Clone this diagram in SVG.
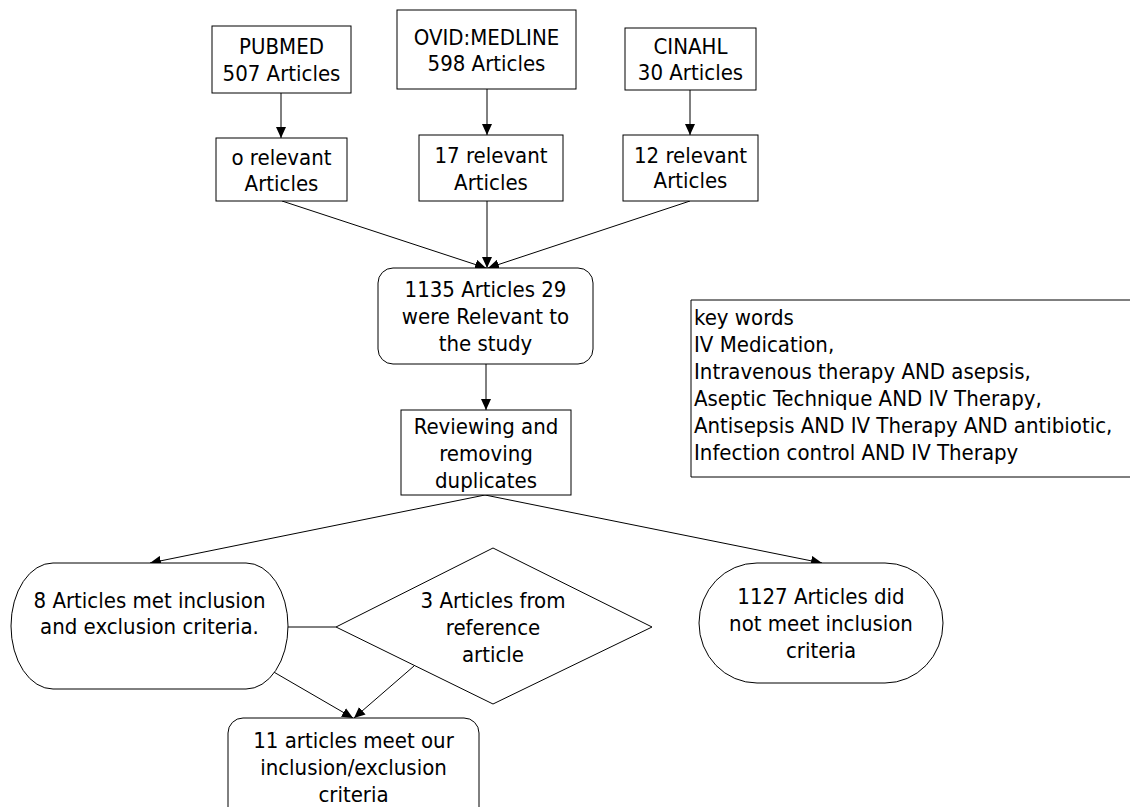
<svg xmlns="http://www.w3.org/2000/svg" width="1130" height="807" viewBox="0 0 1130 807">
<style>
.box{fill:#fff;stroke:#000;stroke-width:1}
.t{font-family:"DejaVu Sans Condensed","DejaVu Sans",sans-serif;font-stretch:condensed;font-size:22px;fill:#000;text-anchor:middle}
.tl{text-anchor:start}
.c{fill:none;stroke:#000;stroke-width:1}
</style>
<defs>
<marker id="ah" markerUnits="userSpaceOnUse" markerWidth="12" markerHeight="10" refX="11" refY="5" orient="auto">
<path d="M0,0 L11,5 L0,10 Z" fill="#000"/>
</marker>
</defs>
<rect width="1130" height="807" fill="#fff"/>
<g id="connectors">
<line class="c" x1="281" y1="93" x2="281" y2="138" marker-end="url(#ah)"/>
<line class="c" x1="487" y1="89" x2="487" y2="135" marker-end="url(#ah)"/>
<line class="c" x1="690" y1="90" x2="690" y2="135" marker-end="url(#ah)"/>
<line class="c" x1="282" y1="201" x2="486" y2="268" marker-end="url(#ah)"/>
<line class="c" x1="487" y1="201" x2="487" y2="268" marker-end="url(#ah)"/>
<line class="c" x1="690" y1="201" x2="488" y2="268" marker-end="url(#ah)"/>
<line class="c" x1="486" y1="364" x2="486" y2="410" marker-end="url(#ah)"/>
<line class="c" x1="485" y1="495" x2="150" y2="563" marker-end="url(#ah)"/>
<line class="c" x1="485" y1="495" x2="822" y2="563" marker-end="url(#ah)"/>
<line class="c" x1="288" y1="627" x2="336" y2="627"/>
<line class="c" x1="272" y1="671" x2="353" y2="718" marker-end="url(#ah)"/>
<line class="c" x1="414" y1="666" x2="354" y2="718" marker-end="url(#ah)"/>
</g>
<g id="pubmed">
<rect class="box" x="212" y="26" width="139" height="67"/>
<text class="t" x="281.5" y="54">PUBMED</text>
<text class="t" x="281.5" y="81">507 Articles</text>
</g>
<g id="ovid">
<rect class="box" x="397" y="10" width="179" height="79"/>
<text class="t" x="486.5" y="45">OVID:MEDLINE</text>
<text class="t" x="486.5" y="71">598 Articles</text>
</g>
<g id="cinahl">
<rect class="box" x="625" y="28" width="131" height="62"/>
<text class="t" x="690.5" y="54">CINAHL</text>
<text class="t" x="690.5" y="80">30 Articles</text>
</g>
<g id="pubmed-rel">
<rect class="box" x="216" y="138" width="131" height="63"/>
<text class="t" x="281.5" y="165">o relevant</text>
<text class="t" x="281.5" y="191">Articles</text>
</g>
<g id="ovid-rel">
<rect class="box" x="419" y="135" width="144" height="66"/>
<text class="t" x="491" y="163">17 relevant</text>
<text class="t" x="491" y="190">Articles</text>
</g>
<g id="cinahl-rel">
<rect class="box" x="623" y="135" width="135" height="66"/>
<text class="t" x="690.5" y="163">12 relevant</text>
<text class="t" x="690.5" y="188">Articles</text>
</g>
<g id="total">
<rect class="box" x="378" y="268" width="215" height="96" rx="15" ry="15"/>
<text class="t" x="485.5" y="297">1135 Articles 29</text>
<text class="t" x="485.5" y="324">were Relevant to</text>
<text class="t" x="485.5" y="351">the study</text>
</g>
<g id="review">
<rect class="box" x="401" y="410" width="170" height="85"/>
<text class="t" x="486" y="434">Reviewing and</text>
<text class="t" x="486" y="461">removing</text>
<text class="t" x="486" y="488">duplicates</text>
</g>
<g id="keywords">
<path class="c" d="M1130,300 H691 V477 H1130"/>
<text class="t tl" x="694" y="325">key words</text>
<text class="t tl" x="694" y="352">IV Medication,</text>
<text class="t tl" x="694" y="379">Intravenous therapy AND asepsis,</text>
<text class="t tl" x="694" y="406">Aseptic Technique AND IV Therapy,</text>
<text class="t tl" x="694" y="433">Antisepsis AND IV Therapy AND antibiotic,</text>
<text class="t tl" x="694" y="460">Infection control AND IV Therapy</text>
</g>
<g id="met">
<rect class="box" x="11" y="563" width="277" height="126" rx="42" ry="63"/>
<text class="t" x="149.5" y="608">8 Articles met inclusion</text>
<text class="t" x="149.5" y="634">and exclusion criteria.</text>
</g>
<g id="ref">
<polygon class="box" points="336,627 493,548 652,627 493,704"/>
<text class="t" x="493" y="608">3 Articles from</text>
<text class="t" x="493" y="635">reference</text>
<text class="t" x="493" y="662">article</text>
</g>
<g id="notmet">
<rect class="box" x="699" y="563" width="244" height="120" rx="58" ry="60"/>
<text class="t" x="821" y="604">1127 Articles did</text>
<text class="t" x="821" y="631">not meet inclusion</text>
<text class="t" x="821" y="658">criteria</text>
</g>
<g id="final">
<rect class="box" x="228" y="718" width="251" height="110" rx="15" ry="15"/>
<text class="t" x="353.5" y="748">11 articles meet our</text>
<text class="t" x="353.5" y="775">inclusion/exclusion</text>
<text class="t" x="353.5" y="802">criteria</text>
</g>
</svg>
